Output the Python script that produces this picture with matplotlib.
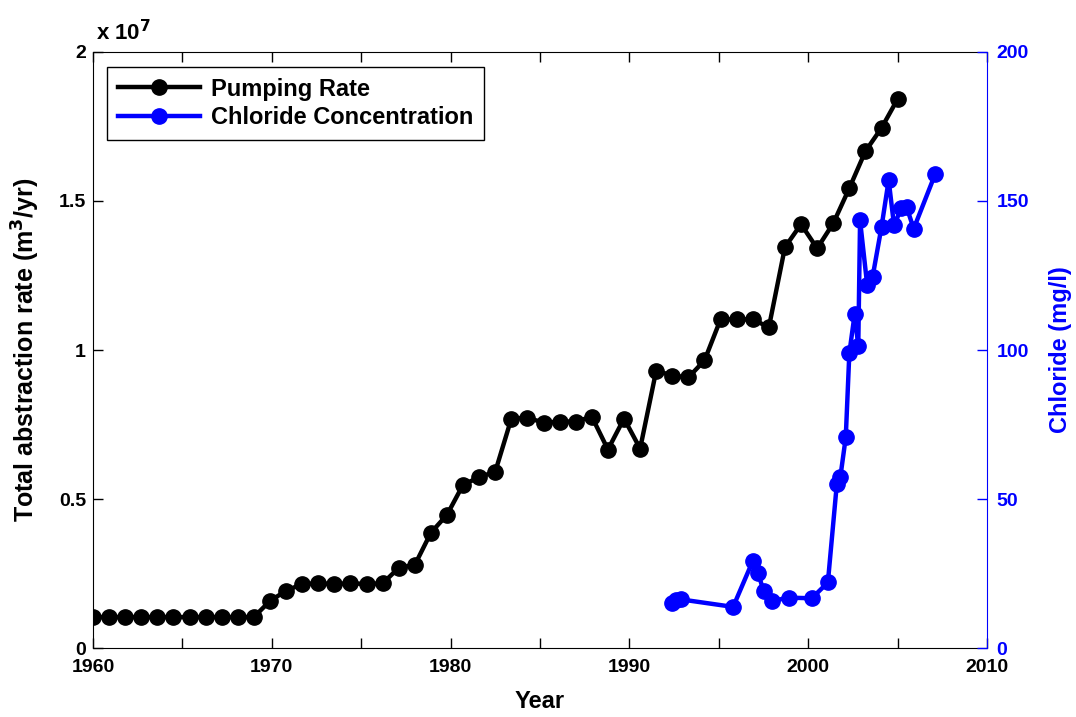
import matplotlib
matplotlib.use('Agg')
import matplotlib.pyplot as plt
from matplotlib.ticker import FuncFormatter, MultipleLocator

plt.rcParams['font.family'] = ['Liberation Sans', 'DejaVu Sans']
plt.rcParams['font.weight'] = 'bold'
plt.rcParams['font.size'] = 14

#------------------------------------------------
# pumping rate (m3/yr)
pump_year = [1960.0, 1960.9, 1961.8, 1962.7, 1963.6, 1964.5, 1965.4, 1966.3, 1967.2, 1968.1,
             1969.0, 1969.9, 1970.8, 1971.7, 1972.6, 1973.5, 1974.4, 1975.3, 1976.2, 1977.1,
             1978.0, 1978.9, 1979.8, 1980.7, 1981.6, 1982.5, 1983.4, 1984.3, 1985.2, 1986.1,
             1987.0, 1987.9, 1988.8, 1989.7, 1990.6, 1991.5, 1992.4, 1993.3, 1994.2, 1995.1,
             1996.0, 1996.9, 1997.8, 1998.7, 1999.6, 2000.5, 2001.4, 2002.3, 2003.2, 2004.1,
             2005.0]
pump_rate = [1.04e6, 1.04e6, 1.04e6, 1.04e6, 1.04e6, 1.04e6, 1.04e6, 1.04e6, 1.04e6, 1.04e6,
             1.04e6, 1.58e6, 1.92e6, 2.15e6, 2.17e6, 2.15e6, 2.17e6, 2.15e6, 2.17e6, 2.69e6,
             2.79e6, 3.87e6, 4.47e6, 5.48e6, 5.73e6, 5.92e6, 7.70e6, 7.73e6, 7.56e6, 7.60e6,
             7.60e6, 7.76e6, 6.66e6, 7.70e6, 6.69e6, 9.31e6, 9.14e6, 9.08e6, 9.65e6, 11.03e6,
             11.03e6, 11.03e6, 10.76e6, 13.45e6, 14.22e6, 13.41e6, 14.25e6, 15.43e6, 16.67e6, 17.45e6,
             18.42e6]

# chloride (mg/l)
cl_year = [1992.4, 1992.6, 1992.9, 1995.8, 1996.9, 1997.2, 1997.5, 1998.0, 1998.9, 2000.2,
           2001.1, 2001.6, 2001.8, 2002.1, 2002.3, 2002.6, 2002.8, 2002.9, 2003.3, 2003.6,
           2004.1, 2004.5, 2004.8, 2005.2, 2005.5, 2005.9, 2007.1]
cl_conc = [15.0, 16.0, 16.3, 13.8, 29.2, 25.1, 19.2, 15.8, 16.9, 16.7,
           22.0, 55.0, 57.5, 70.7, 98.9, 112.2, 101.2, 143.5, 121.7, 124.5,
           141.3, 157.0, 141.8, 147.5, 148.0, 140.7, 159.0]

#------------------------------------------------
fig = plt.figure(figsize=(10.76, 7.17), dpi=100)
ax = fig.add_axes([0.0864, 0.0962, 0.8309, 0.8313])
ax2 = ax.twinx()

l1, = ax.plot(pump_year, pump_rate, '-o', color='black', lw=3.2, ms=11, label='Pumping Rate')
l2, = ax2.plot(cl_year, cl_conc, '-o', color='#0000ff', lw=3.2, ms=11, label='Chloride Concentration')

ax.set_xlim(1960, 2010)
ax.set_ylim(0, 2e7)
ax2.set_ylim(0, 200)

ax.xaxis.set_major_locator(MultipleLocator(10))
ax.xaxis.set_minor_locator(MultipleLocator(5))
ax.yaxis.set_major_locator(MultipleLocator(0.5e7))
ax.yaxis.set_major_formatter(FuncFormatter(lambda v, p: '%g' % (v / 1e7)))
ax2.yaxis.set_major_locator(MultipleLocator(50))

ax.tick_params(axis='x', which='both', direction='in', top=True, length=7, width=1, pad=8)
ax.tick_params(axis='x', which='minor', length=7)
ax.tick_params(axis='y', direction='in', length=7, width=1, right=False, pad=5)
ax2.tick_params(axis='y', direction='in', length=7, width=1, colors='#0000ff', pad=7)

for s in ['left', 'top', 'bottom']:
    ax.spines[s].set_color('black')
ax2.spines['right'].set_color('#0000ff')
ax.spines['right'].set_visible(False)
ax2.spines['left'].set_visible(False)
ax2.spines['top'].set_visible(False)
ax2.spines['bottom'].set_visible(False)

ax.set_xlabel('Year', fontweight='bold', fontsize=17, labelpad=10)
ax.set_ylabel('Total abstraction rate (m$^\\mathbf{3}$/yr)', fontweight='bold', fontsize=18, labelpad=12)
ax2.set_ylabel('Chloride (mg/l)', color='#0000ff', fontweight='bold', fontsize=17, labelpad=14)

ax.text(0.003, 1.012, 'x 10$^{\\mathbf{7}}$', transform=ax.transAxes, ha='left', va='bottom',
        fontweight='bold', fontsize=16)

leg = ax.legend(handles=[l1, l2], loc='upper left', bbox_to_anchor=(0.0157, 0.975),
                borderaxespad=0, fancybox=False, edgecolor='black', framealpha=1,
                handlelength=3.5, handletextpad=0.45, borderpad=0.45, labelspacing=0.25,
                prop={'weight': 'bold', 'size': 17})
leg.get_frame().set_linewidth(1)

fig.savefig('out.png', dpi=100)
